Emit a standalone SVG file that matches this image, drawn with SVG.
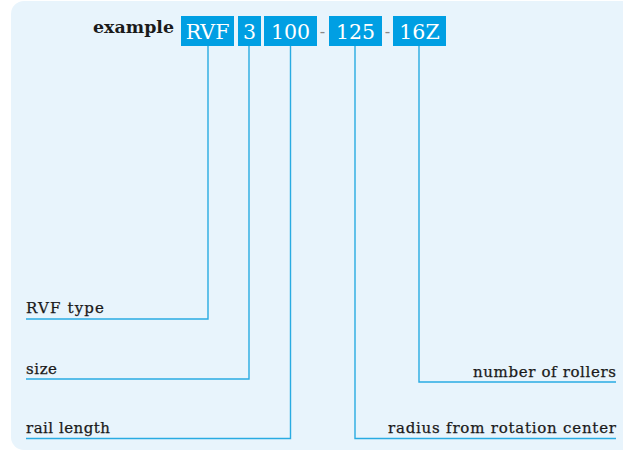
<svg xmlns="http://www.w3.org/2000/svg" width="623" height="451" viewBox="0 0 623 451">
<style>
.box{fill:#009fe3}
.bt{font-family:"DejaVu Serif","Liberation Serif",serif;font-size:20.5px;fill:#ffffff;text-anchor:middle}
.lbl{font-family:"DejaVu Serif","Liberation Serif",serif;font-size:15px;fill:#1a1a1a;stroke:#1a1a1a;stroke-width:0.25}
.ln{fill:none;stroke:#29abe2;stroke-width:1.4}
.dash{font-family:"DejaVu Serif",serif;font-size:16px;fill:#888888;text-anchor:middle}
</style>
<rect x="11" y="1" width="624" height="449" rx="13" fill="#e8f4fc"/>
<text x="93" y="33" font-family="DejaVu Serif, serif" font-size="17" font-weight="bold" fill="#1a1a1a" textLength="81" lengthAdjust="spacingAndGlyphs">example</text>
<g id="n-rvf"><rect class="box" x="181" y="16" width="53" height="30"/><text class="bt" x="207.5" y="39">RVF</text></g>
<g id="n-size"><rect class="box" x="238" y="16" width="23" height="30"/><text class="bt" x="249.5" y="39">3</text></g>
<g id="n-len"><rect class="box" x="264" y="16" width="53" height="30"/><text class="bt" x="290.5" y="39">100</text></g>
<text class="dash" x="322.5" y="37">-</text>
<g id="n-rad"><rect class="box" x="329" y="16" width="53" height="30"/><text class="bt" x="355.5" y="39">125</text></g>
<text class="dash" x="387.5" y="37">-</text>
<g id="n-rol"><rect class="box" x="393" y="16" width="53" height="30"/><text class="bt" x="419.5" y="39">16Z</text></g>
<g id="connectors">
<polyline class="ln" points="208,46 208,319 26,319"/>
<polyline class="ln" points="249,46 249,379 26,379"/>
<polyline class="ln" points="290.5,46 290.5,438.5 26,438.5"/>
<polyline class="ln" points="355,46 355,438.5 616,438.5"/>
<polyline class="ln" points="419,46 419,382 616,382"/>
</g>
<g id="l-type"><text class="lbl" x="26" y="313" textLength="78">RVF type</text></g>
<g id="l-size"><text class="lbl" x="26" y="374" textLength="31">size</text></g>
<g id="l-len"><text class="lbl" x="26" y="433" textLength="84">rail length</text></g>
<g id="l-rol"><text class="lbl" x="473" y="377" textLength="143">number of rollers</text></g>
<g id="l-rad"><text class="lbl" x="388" y="433" textLength="228">radius from rotation center</text></g>
</svg>
